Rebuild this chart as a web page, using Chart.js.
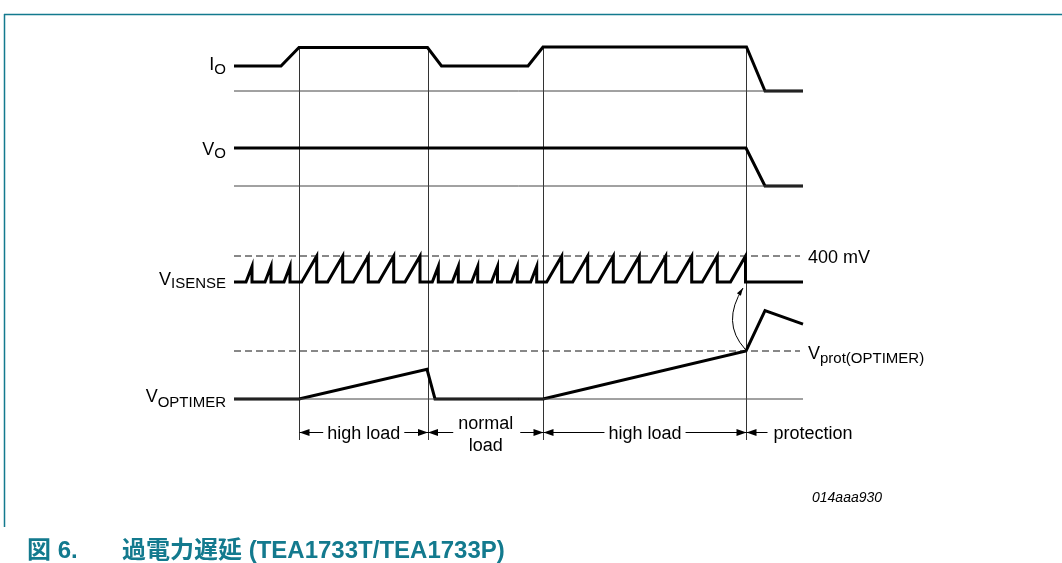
<!DOCTYPE html>
<html>
<head>
<meta charset="utf-8">
<script src="https://cdn.jsdelivr.net/npm/chart.js@4/dist/chart.umd.min.js"></script>
<style>
  html, body { margin: 0; padding: 0; background: #fff; }
  #wrap { width: 1062px; height: 563px; }
</style>
</head>
<body>
<div id="wrap"><canvas id="timing" width="1062" height="563"></canvas></div>
<script>
const W = 1062, H = 563;
const FONT = "'Liberation Sans', Arial, Helvetica, 'Noto Sans CJK JP', sans-serif";
const TEAL = '#137a8e';

// time in arbitrary units, 0 = left end of the traces
const tStart = 0;
const tEnd = 56.9;
const tDashEnd = 56.6;
const phaseEdges = [6.5, 19.35, 30.9, 51.2];
const phaseNames = ['high load', ['normal', 'load'], 'high load', 'protection'];

// I_O, normalised (1 = normal load)
const ioTimes = [0, 4.7, 6.5, 19.35, 20.75, 29.4, 30.9, 51.25, 53.1, 56.9];
const ioValues = [1, 1, 1.74, 1.74, 1, 1, 1.76, 1.76, 0, 0];

// V_O, normalised
const voTimes = [0, 51.2, 53.1, 56.9];
const voValues = [1, 1, 0, 0];

// V_ISENSE sawtooth: peak instants, peak heights (mV), ramp durations
const isensePeaks = [1.8, 3.7, 5.6, 8.27, 10.87, 13.43, 15.97, 18.6,
  20.43, 22.43, 24.37, 26.35, 28.33, 30.27,
  32.77, 35.37, 37.93, 40.53, 43.17, 45.77, 48.33, 51.15];
const isenseHeights = [240, 240, 240, 400, 400, 400, 400, 400,
  240, 240, 240, 240, 240, 240,
  400, 400, 400, 400, 400, 400, 400, 400];
const isenseRise = [0.6, 0.6, 0.6, 1.5, 1.5, 1.5, 1.5, 1.5,
  0.6, 0.6, 0.6, 0.6, 0.6, 0.6,
  1.5, 1.5, 1.5, 1.5, 1.5, 1.5, 1.5, 1.5];
const isenseLimit = 400; // mV

// V_OPTIMER, normalised to V_prot(OPTIMER)
const optTimes = [0, 6.5, 19.3, 20.1, 30.9, 51.2, 53.1, 56.9];
const optValues = [0, 0, 0.62, 0, 0, 1, 1.84, 1.56];
const vProt = 1;

// layout: where each trace sits on the page
const xOrigin = 234, pxPerT = 10;
const rows = {
  io:  { zero: 91,  perUnit: 25 },
  vo:  { zero: 186, perUnit: 38 },
  is:  { zero: 282, perUnit: 0.065 },
  opt: { zero: 399, perUnit: 48 },
};
function rowAxis(r) {
  return { type: 'linear', display: false, min: -(H - r.zero) / r.perUnit, max: r.zero / r.perUnit };
}

const zip = (xs, ys) => xs.map((x, i) => ({ x, y: ys[i] }));
const flat = (a, b, v) => [{ x: a, y: v }, { x: b, y: v }];

function sawtooth() {
  const pts = [{ x: tStart, y: 0 }];
  isensePeaks.forEach((tp, i) => {
    pts.push({ x: tp - isenseRise[i], y: 0 });
    pts.push({ x: tp, y: isenseHeights[i] });
    pts.push({ x: tp, y: 0 });
  });
  pts.push({ x: tEnd, y: 0 });
  return pts;
}

const thin = { borderColor: '#444', borderWidth: 1 };
const dashed = { borderColor: '#111', borderWidth: 1, borderDash: [7, 4] };
const thick = { borderColor: '#000', borderWidth: 3 };

const datasets = [
  { data: flat(tStart, tEnd, 0), yAxisID: 'io', ...thin },
  { data: flat(tStart, tEnd, 0), yAxisID: 'vo', ...thin },
  { data: flat(tStart, tEnd, 0), yAxisID: 'opt', ...thin },
  { data: flat(tStart, tDashEnd, isenseLimit), yAxisID: 'is', ...dashed },
  { data: flat(tStart, tDashEnd, vProt), yAxisID: 'opt', ...dashed },
  { data: zip(ioTimes, ioValues), yAxisID: 'io', ...thick },
  { data: zip(voTimes, voValues), yAxisID: 'vo', ...thick },
  { data: sawtooth(), yAxisID: 'is', ...thick },
  { data: zip(optTimes, optValues), yAxisID: 'opt', ...thick },
];

function font(size, style) {
  return (style ? style + ' ' : '') + size + 'px ' + FONT;
}

function arrowHead(ctx, x, y, dir) {
  ctx.beginPath();
  ctx.moveTo(x, y);
  ctx.lineTo(x - dir * 10, y - 3.5);
  ctx.lineTo(x - dir * 10, y + 3.5);
  ctx.closePath();
  ctx.fill();
}

function subText(ctx, main, sub, x, y, mainDy, subDy, alignRight) {
  ctx.font = font(18);
  const mw = ctx.measureText(main).width;
  ctx.font = font(15);
  const sw = ctx.measureText(sub).width;
  const x0 = alignRight ? x - mw - sw : x;
  ctx.textAlign = 'left';
  ctx.font = font(18);
  ctx.fillText(main, x0, y + mainDy);
  ctx.font = font(15);
  ctx.fillText(sub, x0 + mw, y + subDy);
}

const annotations = {
  id: 'annotations',
  beforeDatasetsDraw(chart) {
    const { ctx, scales } = chart;
    const top = scales.io.getPixelForValue(1.74);
    const bottom = scales.opt.getPixelForValue(0) + 41;
    ctx.save();
    ctx.strokeStyle = '#333';
    ctx.lineWidth = 1;
    phaseEdges.forEach(t => {
      const x = Math.round(scales.x.getPixelForValue(t)) + 0.5;
      ctx.beginPath();
      ctx.moveTo(x, top);
      ctx.lineTo(x, bottom);
      ctx.stroke();
    });
    ctx.restore();
  },
  afterDatasetsDraw(chart) {
    const { ctx, scales } = chart;
    const xs = scales.x;
    ctx.save();
    ctx.fillStyle = '#000';
    ctx.strokeStyle = '#000';
    ctx.textBaseline = 'alphabetic';

    // signal names
    const left = xs.getPixelForValue(tStart) - 8;
    subText(ctx, 'I', 'O', left, scales.io.getPixelForValue(ioValues[0]), 4, 8, true);
    subText(ctx, 'V', 'O', left, scales.vo.getPixelForValue(voValues[0]), 7, 10, true);
    subText(ctx, 'V', 'ISENSE', left, scales.is.getPixelForValue(0), 3, 6, true);
    subText(ctx, 'V', 'OPTIMER', left, scales.opt.getPixelForValue(0), 3, 8, true);

    // level names on the right
    const right = xs.getPixelForValue(tDashEnd) + 8;
    ctx.font = font(18);
    ctx.textAlign = 'left';
    ctx.fillText(isenseLimit + ' mV', right, scales.is.getPixelForValue(isenseLimit) + 7);
    subText(ctx, 'V', 'prot(OPTIMER)', right, scales.opt.getPixelForValue(vProt), 8, 12, false);

    // phase arrows
    const ay = Math.round(scales.opt.getPixelForValue(0) + 33) + 0.5;
    ctx.lineWidth = 1;
    ctx.font = font(18);
    ctx.textAlign = 'center';
    phaseNames.forEach((name, i) => {
      const a = xs.getPixelForValue(phaseEdges[i]) + 0.5;
      const hasEnd = i + 1 < phaseEdges.length;
      const b = hasEnd ? xs.getPixelForValue(phaseEdges[i + 1]) + 0.5 : null;
      if (Array.isArray(name)) {
        const mid = (a + b) / 2;
        const tw = Math.max(...name.map(n => ctx.measureText(n).width));
        ctx.fillText(name[0], mid, ay - 4);
        ctx.fillText(name[1], mid, ay + 18);
        ctx.beginPath();
        ctx.moveTo(a, ay); ctx.lineTo(mid - tw / 2 - 5, ay);
        ctx.moveTo(mid + tw / 2 + 7, ay); ctx.lineTo(b, ay);
        ctx.stroke();
        arrowHead(ctx, a, ay, -1);
        arrowHead(ctx, b, ay, 1);
      } else if (hasEnd) {
        const mid = (a + b) / 2;
        const tw = ctx.measureText(name).width;
        ctx.fillText(name, mid, ay + 6.5);
        ctx.beginPath();
        ctx.moveTo(a, ay); ctx.lineTo(mid - tw / 2 - 4, ay);
        ctx.moveTo(mid + tw / 2 + 4, ay); ctx.lineTo(b, ay);
        ctx.stroke();
        arrowHead(ctx, a, ay, -1);
        arrowHead(ctx, b, ay, 1);
      } else {
        ctx.textAlign = 'left';
        ctx.fillText(name, a + 27, ay + 6.5);
        ctx.beginPath();
        ctx.moveTo(a, ay); ctx.lineTo(a + 21, ay);
        ctx.stroke();
        arrowHead(ctx, a, ay, -1);
      }
    });

    // curved arrow: V_OPTIMER reaching V_prot stops V_ISENSE
    const px = xs.getPixelForValue(phaseEdges[3]);
    const y0 = scales.opt.getPixelForValue(vProt) - 2;
    const y1 = scales.is.getPixelForValue(0) + 6;
    const cx = px - 25, cy = (y0 + y1) / 2 + 4;
    const ex = px - 3;
    ctx.beginPath();
    ctx.moveTo(px - 1, y0);
    ctx.quadraticCurveTo(cx, cy, ex, y1);
    ctx.stroke();
    const ang = Math.atan2(y1 - cy, ex - cx);
    ctx.beginPath();
    ctx.moveTo(ex, y1);
    ctx.lineTo(ex - 8 * Math.cos(ang - 0.3), y1 - 8 * Math.sin(ang - 0.3));
    ctx.lineTo(ex - 8 * Math.cos(ang + 0.3), y1 - 8 * Math.sin(ang + 0.3));
    ctx.closePath();
    ctx.fill();

    // figure id
    ctx.font = font(14, 'italic');
    ctx.textAlign = 'left';
    ctx.fillText('014aaa930', 812, 502);

    // frame and caption
    ctx.strokeStyle = TEAL;
    ctx.lineWidth = 1.5;
    ctx.beginPath();
    ctx.moveTo(4, 14.5); ctx.lineTo(W, 14.5);
    ctx.moveTo(4.5, 14); ctx.lineTo(4.5, 527);
    ctx.stroke();
    ctx.fillStyle = TEAL;
    ctx.font = font(24, 'bold');
    ctx.fillText('図 6.', 27, 558);
    ctx.fillText('過電力遅延 (TEA1733T/TEA1733P)', 122, 558);
    ctx.restore();
  }
};

new Chart(document.getElementById('timing'), {
  type: 'line',
  data: { datasets },
  options: {
    responsive: false,
    animation: false,
    layout: { padding: 0 },
    elements: {
      point: { radius: 0, hoverRadius: 0 },
      line: { tension: 0, fill: false, borderJoinStyle: 'miter', borderCapStyle: 'butt' },
    },
    plugins: { legend: { display: false }, tooltip: { enabled: false } },
    scales: {
      x: { type: 'linear', display: false, min: -xOrigin / pxPerT, max: (W - xOrigin) / pxPerT },
      io: rowAxis(rows.io),
      vo: rowAxis(rows.vo),
      is: rowAxis(rows.is),
      opt: rowAxis(rows.opt),
    },
  },
  plugins: [annotations],
});
</script>
</body>
</html>
